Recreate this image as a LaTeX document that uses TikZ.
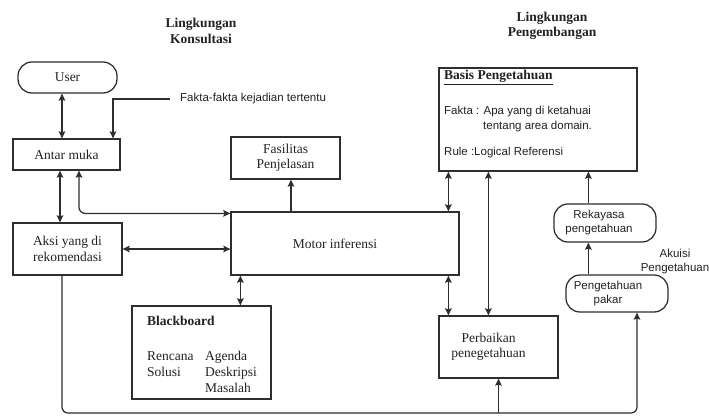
\documentclass[tikz,border=0pt]{standalone}
\usepackage{fontspec}
\setmainfont{Liberation Serif}
\setsansfont{Liberation Sans}
\usetikzlibrary{arrows.meta,calc}
\definecolor{ln}{HTML}{2E2E2E}
\definecolor{tx}{HTML}{222222}
\newcommand{\srf}{\rmfamily\fontsize{13.5}{15.5}\selectfont}
\newcommand{\snf}{\sffamily\fontsize{11.5}{14}\selectfont}
\begin{document}
\begin{tikzpicture}[x=1pt,y=-1pt,
  >={Stealth[length=7pt,width=6.5pt,inset=1pt]},
  box/.style={draw=ln, line width=1.25pt, inner sep=0pt, align=center, text=tx, font=\srf},
  rbox/.style={box, rounded corners=14pt, font=\snf},
  txt/.style={inner sep=0pt, text=tx},
  lbl/.style={text=tx, align=center, inner sep=0pt},
  conn/.style={draw=ln, line width=1.25pt}]
\useasboundingbox (0,0) rectangle (709,417);
\fill[white] (0,0) rectangle (709,417);

% titles
\node[txt, font=\srf\bfseries, align=center] (t1) at (201,31) {Lingkungan\\Konsultasi};
\node[txt, font=\srf\bfseries, align=center] (t2) at (552,26) {Lingkungan\\Pengembangan};

% nodes
\node[box, rounded corners=14pt, minimum width=99pt, minimum height=31pt] (user) at (67.5,77.5) {User};
\node[box, minimum width=107pt, minimum height=31pt] (antar) at (66.5,154.5) {Antar muka};
\node[box, minimum width=109pt, minimum height=42pt] (fasil) at (285.5,158) {Fasilitas\\Penjelasan};
\node[box, minimum width=109pt, minimum height=52pt] (aksi) at (67.5,249) {Aksi yang di\\rekomendasi};
\node[box, minimum width=228pt, minimum height=63pt,
  label={[lbl, font=\srf, xshift=-10pt]center:Motor inferensi}] (motor) at (345,243.5) {};
\node[box, minimum width=139pt, minimum height=93pt] (bb) at (201.5,352.5) {};
\node[box, minimum width=198pt, minimum height=103pt] (basis) at (538,119.5) {};
\node[box, minimum width=119pt, minimum height=62pt,
  label={[lbl, font=\srf, xshift=-10pt]center:{Perbaikan\\penegetahuan}}] (perb) at (498.5,347) {};
\node[rbox, minimum width=102pt, minimum height=38pt,
  label={[lbl, font=\snf, xshift=-6pt]center:{Rekayasa\\pengetahuan}}] (rek) at (605,223) {};
\node[rbox, minimum width=102pt, minimum height=37pt,
  label={[lbl, font=\snf, xshift=-9pt]center:{Pengetahuan\\pakar}}] (pakar) at (617,293.5) {};

% blackboard contents
\node[txt, font=\srf\bfseries, anchor=base west] (bbt) at (147,325) {Blackboard};
\node[txt, font=\srf, anchor=base west] (bb1) at (147,360) {Rencana};
\node[txt, font=\srf, anchor=base west] (bb2) at (205,360) {Agenda};
\node[txt, font=\srf, anchor=base west] (bb3) at (147,376) {Solusi};
\node[txt, font=\srf, anchor=base west] (bb4) at (205,376) {Deskripsi};
\node[txt, font=\srf, anchor=base west] (bb5) at (205,392.5) {Masalah};

% basis contents
\node[txt, font=\srf\bfseries, anchor=base west] (bpt) at (444,80) {\underline{Basis Pengetahuan}};
\node[txt, font=\snf, anchor=base west] (bp1) at (444,114.5) {Fakta : Apa yang di ketahuai};
\node[txt, font=\snf, anchor=base west] (bp2) at (483,129.5) {tentang area domain.};
\node[txt, font=\snf, anchor=base west] (bp3) at (444,155.5) {Rule :Logical Referensi};

% free labels
\node[txt, font=\snf, anchor=west] (fakta) at (180,99) {Fakta-fakta kejadian tertentu};
\node[lbl, font=\snf] (akuisi) at (675,262) {Akuisi\\Pengetahuan};

% helper coordinates
\coordinate (fx) at ($(fasil.south)+(5.5,0)$);
\coordinate (bx) at ($(bb.north west)+(109,0)$);
\coordinate (k1) at ($(basis.south west)+(10,0)$);
\coordinate (k2) at ($(basis.south west)+(50,0)$);
\coordinate (k3) at ($(basis.south west)+(150,0)$);
\coordinate (k0) at ($(aksi.south)+(-5.5,0)$);
\coordinate (k4) at ($(pakar.south)+(20,0)$);
\coordinate (bot) at (0,413);

% connectors
\draw[conn,<->] ([xshift=-5.5pt]user.south) -- ([xshift=-4.5pt]antar.north);
\draw[conn,->] ([xshift=-10pt]fakta.west) -| ([xshift=46.5pt]antar.north);
\draw[conn,<->] ([xshift=-6.5pt]antar.south) -- ([xshift=-7.5pt]aksi.north);
\draw[conn,<->, rounded corners=6pt] ([xshift=12.5pt]antar.south) |- ($(motor.north west)+(0,2)$);
\draw[conn,<->] (aksi.east) -- (aksi.east -| motor.west);
\draw[conn,->] (fx |- motor.north) -- (fx);
\draw[conn,<->] (bx |- motor.south) -- (bx);
\draw[conn,<->] (k1) -- (k1 |- motor.north);
\draw[conn,<->] (k1 |- motor.south) -- (k1 |- perb.north);
\draw[conn,<->] (k2) -- (k2 |- perb.north);
\draw[conn,->] (k3 |- rek.north) -- (k3);
\draw[conn,->] (k3 |- pakar.north) -- (k3 |- rek.south);
\draw[conn,->, rounded corners=6pt] (k0) |- (k4 |- bot) -- (k4 |- pakar.south);
\draw[conn,->] (perb.south |- bot) -- (perb.south);
\end{tikzpicture}
\end{document}
